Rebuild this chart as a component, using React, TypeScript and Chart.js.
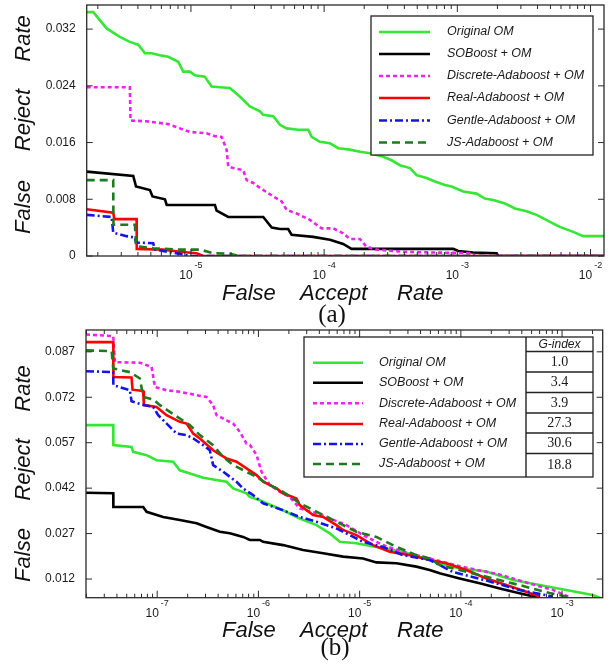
import React, { useEffect, useRef } from 'react';
import { Chart, registerables } from 'chart.js';

Chart.register(...registerables);

type Pt = [number, number];

// ---------- shared labels ----------
const seriesNames = [
  'Original OM',
  'SOBoost + OM',
  'Discrete-Adaboost + OM',
  'Real-Adaboost + OM',
  'Gentle-Adaboost + OM',
  'JS-Adaboost + OM',
];
const gIndexValues = ['1.0', '3.4', '3.9', '27.3', '30.6', '18.8'];
const xTitleWords = ['False', 'Accept', 'Rate'];
const yTitleWords = ['False', 'Reject', 'Rate'];

// ---------- chart (a) ----------
const xRangeA = [1.65e-6, 0.01262];
const yRangeA = [0, 0.0354];
const yTicksA = [0, 0.008, 0.016, 0.024, 0.032];
const yTickLabelsA = ['0', '0.008', '0.016', '0.024', '0.032'];
const xDecadesA = [-5, -4, -3, -2];

const originalA: Pt[] = [
  [1.65e-6, 0.0344], [1.85e-6, 0.0344], [2.33e-6, 0.0321], [2.93e-6, 0.0309], [3.48e-6, 0.0302],
  [4.02e-6, 0.0298], [4.52e-6, 0.0286], [5.07e-6, 0.0286], [5.85e-6, 0.0283], [6.76e-6, 0.0281],
  [8.03e-6, 0.0274], [8.76e-6, 0.026], [9.83e-6, 0.026], [1.07e-5, 0.0255], [1.27e-5, 0.0253],
  [1.43e-5, 0.0239], [1.65e-5, 0.0238], [1.96e-5, 0.0237], [2.33e-5, 0.0225], [2.77e-5, 0.0211],
  [3.3e-5, 0.0204], [3.49e-5, 0.0199], [4.15e-5, 0.0197], [4.66e-5, 0.0185], [5.23e-5, 0.018],
  [6.39e-5, 0.0178], [7.6e-5, 0.0178], [8.06e-5, 0.0168], [9.29e-5, 0.0161], [1.106e-4, 0.0159],
  [1.277e-4, 0.0152], [1.563e-4, 0.015], [1.858e-4, 0.0147], [2.21e-4, 0.0145], [2.78e-4, 0.014],
  [3.21e-4, 0.0135], [3.71e-4, 0.0128], [4.41e-4, 0.0124], [4.95e-4, 0.0114], [5.88e-4, 0.011],
  [6.79e-4, 0.0105], [8.07e-4, 0.01], [9.06e-4, 0.0098], [1.107e-3, 0.0091], [1.395e-3, 0.0088],
  [1.61e-3, 0.0081], [1.86e-3, 0.0079], [2.28e-3, 0.0074], [2.71e-3, 0.0067], [3.31e-3, 0.0063],
  [3.94e-3, 0.0058], [4.96e-3, 0.0048], [5.89e-3, 0.0041], [7.41e-3, 0.0034], [8.81e-3, 0.0028],
  [0.0128, 0.0028],
];
const soboostA: Pt[] = [
  [1.65e-6, 0.0119], [3.69e-6, 0.0113], [3.87e-6, 0.0098], [4.92e-6, 0.0093], [5.15e-6, 0.0084],
  [6.38e-6, 0.008], [6.58e-6, 0.0072], [1.514e-5, 0.0072], [1.559e-5, 0.0064], [1.906e-5, 0.0055],
  [3.49e-5, 0.0055], [4.04e-5, 0.004], [4.66e-5, 0.0038], [5.37e-5, 0.0038], [5.7e-5, 0.003],
  [8.28e-5, 0.0027], [1.106e-4, 0.0023], [1.39e-4, 0.0017], [1.607e-4, 0.001], [9.31e-4, 0.001],
  [1.016e-3, 0.0007], [1.316e-3, 0.0005], [1.97e-3, 0.0004], [2.03e-3, 0], [0.0128, 0],
];
const discreteA: Pt[] = [
  [1.65e-6, 0.0238], [3.48e-6, 0.0238], [3.52e-6, 0.0191], [4.65e-6, 0.019], [6.76e-6, 0.0186],
  [8.27e-6, 0.018], [9.83e-6, 0.0175], [1.311e-5, 0.0173], [1.514e-5, 0.0169], [1.698e-5, 0.0168],
  [1.853e-5, 0.015], [1.906e-5, 0.0126], [2.08e-5, 0.0124], [2.47e-5, 0.0121], [2.62e-5, 0.0107],
  [2.94e-5, 0.0103], [3.3e-5, 0.0096], [4.15e-5, 0.0084], [4.8e-5, 0.0077], [5.23e-5, 0.0065],
  [6.22e-5, 0.006], [7.82e-5, 0.0051], [9.57e-5, 0.0039], [1.17e-4, 0.0039], [1.39e-4, 0.0032],
  [1.563e-4, 0.0024], [1.858e-4, 0.0024], [2.08e-4, 0.0013], [2.48e-4, 0.0009], [3.93e-4, 0.0006],
  [6.22e-4, 0.0005], [1.244e-3, 0.0004], [1.356e-3, 0], [0.0128, 0],
];
const realA: Pt[] = [
  [1.65e-6, 0.0066], [2.61e-6, 0.0061], [2.66e-6, 0.0052], [3.91e-6, 0.0052], [3.92e-6, 0.001],
  [6.19e-6, 0.0009], [8.27e-6, 0.0006], [1.104e-5, 0.0004], [1.237e-5, 0], [0.0128, 0],
];
const gentleA: Pt[] = [
  [1.65e-6, 0.0058], [2.54e-6, 0.0055], [2.61e-6, 0.0033], [3.29e-6, 0.0028], [3.8e-6, 0.0026],
  [3.87e-6, 0.0019], [5.21e-6, 0.0018], [5.37e-6, 0.0009], [8.27e-6, 0.0003], [9.83e-6, 0],
  [0.0128, 0],
];
const jsA: Pt[] = [
  [1.65e-6, 0.0107], [2.61e-6, 0.0107], [2.62e-6, 0.0044], [3.8e-6, 0.0044], [3.87e-6, 0.0014],
  [5.21e-6, 0.0011], [8.27e-6, 0.0009], [1.169e-5, 0.0009], [1.47e-5, 0.0004], [1.96e-5, 0.0003],
  [2.33e-5, 0], [0.0128, 0],
];

// ---------- chart (b) ----------
const xRangeB = [1.98e-8, 2.52e-3];
const yRangeB = [0.00584, 0.0942];
const yTicksB = [0.012, 0.027, 0.042, 0.057, 0.072, 0.087];
const yTickLabelsB = ['0.012', '0.027', '0.042', '0.057', '0.072', '0.087'];
const xDecadesB = [-7, -6, -5, -4, -3];

const originalB: Pt[] = [
  [1.98e-8, 0.0628], [3.68e-8, 0.0628], [3.69e-8, 0.0562], [5.58e-8, 0.0556], [5.79e-8, 0.054],
  [7.86e-8, 0.0529], [9.86e-8, 0.0512], [1.439e-7, 0.0507], [1.675e-7, 0.0479], [2.27e-7, 0.0465],
  [2.85e-7, 0.0454], [4.84e-7, 0.0441], [5.63e-7, 0.0419], [7.63e-7, 0.0403], [8.22e-7, 0.0391],
  [1.032e-6, 0.038], [1.202e-6, 0.037], [1.75e-6, 0.0347], [2.56e-6, 0.032], [3.75e-6, 0.0298],
  [5.07e-6, 0.0271], [6.37e-6, 0.0243], [9.3e-6, 0.0238], [1.465e-5, 0.0226], [2.68e-5, 0.021],
  [3.92e-5, 0.0193], [4.92e-5, 0.0188], [6.18e-5, 0.0172], [9.73e-5, 0.0155], [1.79e-4, 0.0145],
  [3.27e-4, 0.0117], [6.0e-4, 0.01], [1.099e-3, 0.0084], [2.01e-3, 0.0067], [2.49e-3, 0.0055],
];
const soboostB: Pt[] = [
  [1.98e-8, 0.0405], [3.68e-8, 0.0403], [3.69e-8, 0.0358], [7.27e-8, 0.0358], [7.86e-8, 0.0342],
  [1.146e-7, 0.0325], [1.675e-7, 0.0315], [2.45e-7, 0.0304], [3.07e-7, 0.0292], [4.16e-7, 0.0276],
  [5.22e-7, 0.0271], [7.06e-7, 0.0259], [8.22e-7, 0.0249], [1.032e-6, 0.0249], [1.112e-6, 0.0243],
  [1.75e-6, 0.0232], [2.76e-6, 0.0216], [4.36e-6, 0.0205], [6.86e-6, 0.0194], [1.081e-5, 0.0188],
  [1.465e-5, 0.0175], [2.31e-5, 0.0172], [3.64e-5, 0.0161], [4.92e-5, 0.015], [6.18e-5, 0.0139],
  [9.73e-5, 0.0122], [1.533e-4, 0.0106], [2.42e-4, 0.0089], [3.8e-4, 0.0073], [6.0e-4, 0.0058],
];
const discreteB: Pt[] = [
  [1.98e-8, 0.0927], [3.68e-8, 0.0922], [3.82e-8, 0.0836], [6.75e-8, 0.0834], [8.81e-8, 0.082],
  [9.49e-8, 0.0754], [1.238e-7, 0.0743], [1.675e-7, 0.0738], [2.45e-7, 0.0727], [3.07e-7, 0.0721],
  [3.57e-7, 0.0694], [3.86e-7, 0.0661], [4.84e-7, 0.0644], [5.63e-7, 0.0633], [6.55e-7, 0.0606],
  [7.63e-7, 0.0567], [8.22e-7, 0.0563], [9.58e-7, 0.053], [1.073e-6, 0.0474], [1.297e-6, 0.043],
  [1.63e-6, 0.0408], [2.04e-6, 0.0391], [2.56e-6, 0.0353], [3.75e-6, 0.0337], [5.07e-6, 0.032],
  [7.41e-6, 0.0298], [1.081e-5, 0.0265], [1.7e-5, 0.0232], [2.68e-5, 0.021], [4.92e-5, 0.0188],
  [9.73e-5, 0.0162], [2.42e-4, 0.0135], [4.78e-4, 0.0105], [8.0e-4, 0.0085], [1.185e-3, 0.006],
];
const realB: Pt[] = [
  [1.98e-8, 0.0902], [3.68e-8, 0.0902], [3.69e-8, 0.0787], [5.58e-8, 0.0785], [5.71e-8, 0.0745],
  [7.27e-8, 0.0741], [7.39e-8, 0.0694], [9.86e-8, 0.0688], [1.238e-7, 0.0661], [1.675e-7, 0.0639],
  [1.95e-7, 0.0633], [2.27e-7, 0.06], [2.64e-7, 0.0584], [3.57e-7, 0.0545], [4.84e-7, 0.0518],
  [6.08e-7, 0.0507], [7.63e-7, 0.0485], [9.58e-7, 0.0463], [1.112e-6, 0.0441], [1.51e-6, 0.0419],
  [1.75e-6, 0.0403], [2.38e-6, 0.0386], [2.56e-6, 0.0364], [3.47e-6, 0.0331], [4.36e-6, 0.0325],
  [5.9e-6, 0.0298], [6.86e-6, 0.0282], [9.3e-6, 0.0265], [1.356e-5, 0.0232], [1.98e-5, 0.021],
  [3.12e-5, 0.0199], [4.92e-5, 0.0183], [7.19e-5, 0.0172], [1.133e-4, 0.015], [1.79e-4, 0.0122],
  [2.81e-4, 0.01], [4.43e-4, 0.0078], [6.0e-4, 0.0062],
];
const gentleB: Pt[] = [
  [1.98e-8, 0.0806], [3.68e-8, 0.0803], [3.69e-8, 0.076], [5.37e-8, 0.0743], [5.58e-8, 0.0707],
  [7.01e-8, 0.0696], [9.14e-8, 0.0688], [1.023e-7, 0.0661], [1.555e-7, 0.06], [1.95e-7, 0.0595],
  [2.27e-7, 0.0584], [2.85e-7, 0.0562], [3.31e-7, 0.0545], [3.57e-7, 0.0496], [4.49e-7, 0.0474],
  [6.08e-7, 0.0441], [7.06e-7, 0.0419], [8.87e-7, 0.0397], [1.112e-6, 0.037], [1.75e-6, 0.0347],
  [2.56e-6, 0.0325], [3.75e-6, 0.0309], [5.9e-6, 0.0287], [8.0e-6, 0.0265], [1.081e-5, 0.0243],
  [1.7e-5, 0.0226], [2.68e-5, 0.0199], [4.92e-5, 0.0183], [8.36e-5, 0.0143], [1.79e-4, 0.0115],
  [3.8e-4, 0.0084], [8.11e-4, 0.0062],
];
const jsB: Pt[] = [
  [1.98e-8, 0.0875], [3.55e-8, 0.0872], [3.68e-8, 0.0815], [5.37e-8, 0.0803], [6.75e-8, 0.0782],
  [7.27e-8, 0.0721], [9.14e-8, 0.0713], [1.064e-7, 0.0694], [1.334e-7, 0.0672], [1.675e-7, 0.065],
  [2.1e-7, 0.0628], [2.64e-7, 0.0595], [3.57e-7, 0.0562], [4.49e-7, 0.0523], [5.63e-7, 0.0496],
  [7.63e-7, 0.0474], [9.58e-7, 0.0457], [1.202e-6, 0.0436], [1.75e-6, 0.0408], [2.56e-6, 0.037],
  [4.04e-6, 0.0337], [5.9e-6, 0.0309], [9.3e-6, 0.0276], [1.465e-5, 0.0259], [2.31e-5, 0.0226],
  [3.64e-5, 0.0199], [4.92e-5, 0.0188], [6.18e-5, 0.0166], [1.533e-4, 0.0133], [3.8e-4, 0.01],
  [7.54e-4, 0.0074], [1.132e-3, 0.0061],
];

// ---------- styles ----------
const STYLES = [
  { color: '#35e635', dash: [] as number[] },
  { color: '#000000', dash: [] as number[] },
  { color: '#ee22ee', dash: [4, 3] },
  { color: '#ff0000', dash: [] as number[] },
  { color: '#1414e6', dash: [8, 3, 2, 3] },
  { color: '#1e7a1e', dash: [8, 5] },
];
const SANS = '"Liberation Sans", Arial, Helvetica, sans-serif';
const SERIF = '"Liberation Serif", "Times New Roman", serif';

interface Cfg {
  id: string;
  oy: number; // canvas top in page coords
  height: number;
  series: Pt[][];
  xRange: number[];
  yRange: number[];
  yTicks: number[];
  yTickLabels: string[];
  xDecades: number[];
  padding: { left: number; top: number; right: number; bottom: number };
  tickLabelDy: number;
  xTitleX: number[];
  xTitleBase: number;
  yTitleY: number[];
  caption: string;
  captionX: number;
  captionBase: number;
  legend: {
    box: number[]; // x0,y0,x1,y1
    rows: number[];
    sample: number[];
    textX: number;
    table?: { x: number; lines: number[] };
  };
}

const cfgA: Cfg = {
  id: 'a',
  oy: 0,
  height: 328,
  series: [originalA, soboostA, discreteA, realA, gentleA, jsA],
  xRange: xRangeA,
  yRange: yRangeA,
  yTicks: yTicksA,
  yTickLabels: yTickLabelsA,
  xDecades: xDecadesA,
  padding: { left: 86.7, top: 5, right: 6, bottom: 72 },
  tickLabelDy: 20,
  xTitleX: [222, 300, 397],
  xTitleBase: 300,
  yTitleY: [207, 120, 38.5],
  caption: '(a)',
  captionX: 332,
  captionBase: 322,
  legend: {
    box: [371, 16, 593, 155],
    rows: [32, 54, 76, 98, 120.5, 142.5],
    sample: [379, 430],
    textX: 447,
  },
};

const cfgB: Cfg = {
  id: 'b',
  oy: 328,
  height: 339,
  series: [originalB, soboostB, discreteB, realB, gentleB, jsB],
  xRange: xRangeB,
  yRange: yRangeB,
  yTicks: yTicksB,
  yTickLabels: yTickLabelsB,
  xDecades: xDecadesB,
  padding: { left: 86, top: 2, right: 7.3, bottom: 69.3 },
  tickLabelDy: 16,
  xTitleX: [222, 300, 397],
  xTitleBase: 637,
  yTitleY: [555, 469.5, 388.5],
  caption: '(b)',
  captionX: 335,
  captionBase: 655,
  legend: {
    box: [304, 337, 593, 477],
    rows: [362.7, 382.7, 403.3, 424, 444, 464],
    sample: [313, 363],
    textX: 379,
    table: { x: 526, lines: [351.5, 372, 392.5, 413, 433, 453.5] },
  },
};

function decor(cfg: Cfg) {
  return {
    id: 'decor_' + cfg.id,
    afterDatasetsDraw(chart: any) {
      const ctx: CanvasRenderingContext2D = chart.ctx;
      const { left, right, top, bottom } = chart.chartArea;
      const xs = chart.scales.x;
      const ys = chart.scales.y;
      const Y = (py: number) => py - cfg.oy;
      const line = (x0: number, y0: number, x1: number, y1: number) => {
        ctx.beginPath();
        ctx.moveTo(x0, y0);
        ctx.lineTo(x1, y1);
        ctx.stroke();
      };
      ctx.save();
      ctx.setLineDash([]);
      // frame
      ctx.strokeStyle = '#2a2a2a';
      ctx.lineWidth = 1.3;
      ctx.strokeRect(left, top, right - left, bottom - top);
      // y ticks (inward, both sides)
      ctx.lineWidth = 1;
      cfg.yTicks.forEach((v) => {
        const py = ys.getPixelForValue(v);
        line(left, py, left + 6, py);
        line(right - 6, py, right, py);
      });
      // x ticks (log, inward, top and bottom)
      const lo = Math.floor(Math.log10(cfg.xRange[0]));
      const hi = Math.ceil(Math.log10(cfg.xRange[1]));
      for (let d = lo; d <= hi; d++) {
        for (let m = 1; m <= 9; m++) {
          const v = m * Math.pow(10, d);
          if (v <= cfg.xRange[0] || v >= cfg.xRange[1]) continue;
          const px = xs.getPixelForValue(v);
          const len = m === 1 ? 7 : 4;
          line(px, bottom, px, bottom - len);
          line(px, top, px, top + len);
        }
      }
      // y tick labels
      ctx.fillStyle = '#1a1a1a';
      ctx.font = `12px ${SANS}`;
      ctx.textAlign = 'right';
      ctx.textBaseline = 'middle';
      cfg.yTicks.forEach((v, i) => {
        ctx.fillText(cfg.yTickLabels[i], left - 11, ys.getPixelForValue(v));
      });
      // x tick labels 10^d
      ctx.textAlign = 'left';
      cfg.xDecades.forEach((d) => {
        const px = xs.getPixelForValue(Math.pow(10, d));
        ctx.font = `12px ${SANS}`;
        const w1 = ctx.measureText('10').width;
        ctx.font = `9px ${SANS}`;
        const exp = String(d);
        const w2 = ctx.measureText(exp).width;
        const sx = px - (w1 + 2 + w2) / 2;
        ctx.font = `12px ${SANS}`;
        ctx.fillText('10', sx, bottom + cfg.tickLabelDy);
        ctx.font = `9px ${SANS}`;
        ctx.fillText(exp, sx + w1 + 2, bottom + cfg.tickLabelDy - 10);
      });
      // axis titles
      ctx.fillStyle = '#111';
      ctx.font = `italic 22px ${SANS}`;
      ctx.textBaseline = 'alphabetic';
      ctx.textAlign = 'left';
      xTitleWords.forEach((w, i) => ctx.fillText(w, cfg.xTitleX[i], Y(cfg.xTitleBase)));
      ctx.textAlign = 'center';
      ctx.textBaseline = 'middle';
      yTitleWords.forEach((w, i) => {
        ctx.save();
        ctx.translate(24, Y(cfg.yTitleY[i]));
        ctx.rotate(-Math.PI / 2);
        ctx.fillText(w, 0, 0);
        ctx.restore();
      });
      // caption
      ctx.font = `25px ${SERIF}`;
      ctx.textBaseline = 'alphabetic';
      ctx.fillText(cfg.caption, cfg.captionX, Y(cfg.captionBase));
      // legend
      const L = cfg.legend;
      const [bx0, by0, bx1, by1] = L.box;
      ctx.fillStyle = '#ffffff';
      ctx.fillRect(bx0, Y(by0), bx1 - bx0, by1 - by0);
      ctx.strokeStyle = '#222';
      ctx.lineWidth = 1.3;
      ctx.strokeRect(bx0, Y(by0), bx1 - bx0, by1 - by0);
      seriesNames.forEach((name, i) => {
        const ry = Y(L.rows[i]);
        ctx.strokeStyle = STYLES[i].color;
        ctx.lineWidth = 2.6;
        ctx.setLineDash(STYLES[i].dash);
        line(L.sample[0], ry, L.sample[1], ry);
        ctx.setLineDash([]);
        ctx.fillStyle = '#1a1a1a';
        ctx.font = `italic 12.5px ${SANS}`;
        ctx.textAlign = 'left';
        ctx.textBaseline = 'middle';
        ctx.fillText(name, L.textX, ry);
      });
      if (L.table) {
        const T = L.table;
        ctx.strokeStyle = '#222';
        ctx.lineWidth = 1.4;
        line(T.x, Y(by0), T.x, Y(by1));
        T.lines.forEach((ly) => line(T.x, Y(ly), bx1, Y(ly)));
        const cx = (T.x + bx1) / 2;
        ctx.fillStyle = '#1a1a1a';
        ctx.textAlign = 'center';
        ctx.textBaseline = 'middle';
        ctx.font = `italic 12px ${SANS}`;
        ctx.fillText('G-index', cx, Y((by0 + T.lines[0]) / 2) + 0.5);
        ctx.font = `14px ${SERIF}`;
        const bounds = [...T.lines, by1];
        gIndexValues.forEach((g, i) => {
          ctx.fillText(g, cx, Y((bounds[i] + bounds[i + 1]) / 2) + 0.5);
        });
      }
      ctx.restore();
    },
  };
}

function makeChart(canvas: HTMLCanvasElement, cfg: Cfg) {
  return new Chart(canvas, {
    type: 'line',
    data: {
      datasets: cfg.series.map((pts, i) => ({
        label: seriesNames[i],
        data: pts.map(([x, y]) => ({ x, y })),
        borderColor: STYLES[i].color,
        backgroundColor: STYLES[i].color,
        borderDash: STYLES[i].dash,
        borderWidth: 2.6,
        pointRadius: 0,
        tension: 0,
        fill: false,
        order: 5 - i,
      })),
    },
    options: {
      animation: false,
      responsive: false,
      devicePixelRatio: 1,
      events: [],
      layout: { padding: cfg.padding },
      plugins: {
        legend: { display: false },
        tooltip: { enabled: false },
        title: { display: false },
      },
      scales: {
        x: {
          type: 'logarithmic',
          display: false,
          min: cfg.xRange[0],
          max: cfg.xRange[1],
          bounds: 'data',
        },
        y: {
          type: 'linear',
          display: false,
          min: cfg.yRange[0],
          max: cfg.yRange[1],
          bounds: 'data',
        },
      },
    } as any,
    plugins: [decor(cfg)],
  });
}

export default function App() {
  const refA = useRef<HTMLCanvasElement>(null);
  const refB = useRef<HTMLCanvasElement>(null);
  useEffect(() => {
    const a = makeChart(refA.current as HTMLCanvasElement, cfgA);
    const b = makeChart(refB.current as HTMLCanvasElement, cfgB);
    return () => {
      a.destroy();
      b.destroy();
    };
  }, []);
  return (
    <div style={{ position: 'absolute', left: 0, top: 0, width: 610, height: 667, background: '#fff' }}>
      <canvas
        ref={refA}
        width={610}
        height={cfgA.height}
        style={{ position: 'absolute', left: 0, top: cfgA.oy, width: 610, height: cfgA.height }}
      />
      <canvas
        ref={refB}
        width={610}
        height={cfgB.height}
        style={{ position: 'absolute', left: 0, top: cfgB.oy, width: 610, height: cfgB.height }}
      />
    </div>
  );
}
